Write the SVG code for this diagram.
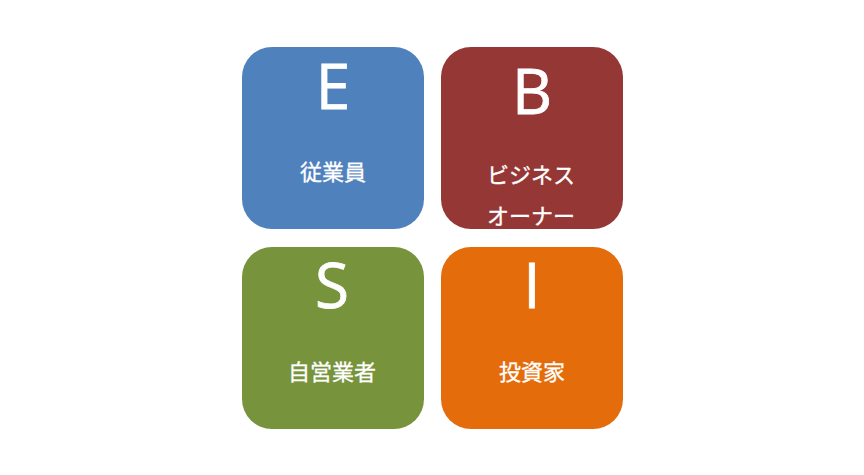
<svg xmlns="http://www.w3.org/2000/svg" width="864" height="475" viewBox="0 0 864 475">
<style>
.box{stroke:none}
.big{font-family:"Open Sans","Noto Sans",sans-serif;font-size:62px;fill:#fff;stroke:#fff;stroke-width:0.8;text-anchor:middle}
.jp{font-family:"Noto Sans CJK JP",sans-serif;font-size:22px;fill:#fff;stroke:#fff;stroke-width:0.3;text-anchor:middle}
</style>
<rect width="864" height="475" fill="#fff"/>
<g id="E">
<rect class="box" x="242" y="47" width="182" height="182" rx="30" fill="#4F81BD"/>
<text class="big" x="333" y="109">E</text>
<text class="jp" x="333" y="180">従業員</text>
</g>
<g id="B">
<rect class="box" x="441" y="47" width="182" height="182" rx="30" fill="#953735"/>
<text class="big" x="532" y="114">B</text>
<text class="jp" x="531" y="183">ビジネス</text>
<text class="jp" x="531" y="224">オーナー</text>
</g>
<g id="S">
<rect class="box" x="242" y="247" width="182" height="182" rx="30" fill="#77933C"/>
<text class="big" x="332" y="308">S</text>
<text class="jp" x="332" y="380">自営業者</text>
</g>
<g id="I">
<rect class="box" x="441" y="247" width="182" height="182" rx="30" fill="#E46C0A"/>
<text class="big" x="532" y="308">I</text>
<text class="jp" x="532" y="380">投資家</text>
</g>
<g id="connectors"></g>
</svg>
